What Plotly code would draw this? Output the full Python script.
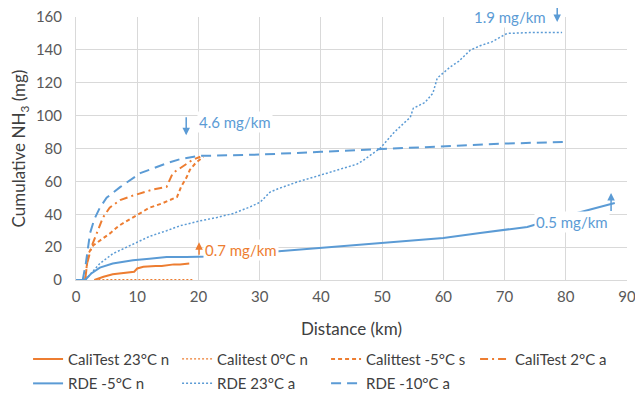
import plotly.graph_objects as go

ORANGE = "#ED7D31"
BLUE = "#5B9BD5"
FONT = "Lato, Open Sans, sans-serif"

# ---- data ----
cali23_x = [3, 4.5, 6, 8, 9.5, 10, 11, 13, 14, 16, 17, 18.5]
cali23_y = [0, 2, 3.5, 4.5, 5, 7, 8, 8.5, 8.5, 9.5, 9.5, 10]

cali0_x = [3, 19]
cali0_y = [0.3, 0.3]

calim5_x = [1.5, 2, 2.8, 4, 5.6, 7, 9.3, 12, 14, 16.5, 17.2, 18, 18.6, 19.5, 20.8]
calim5_y = [0, 16, 21, 24, 28.5, 33, 38, 44, 46.5, 50.5, 57, 62, 67, 71, 75]

cali2_x = [1.5, 1.8, 2.6, 3.5, 4.4, 5.5, 7.2, 9, 10.5, 12.5, 14.8, 15.8, 17, 18.1, 19, 20.3]
cali2_y = [0, 10, 21, 30, 38, 44, 48.6, 51, 52.7, 55, 56.7, 65, 68, 71, 73, 75]

rdem5_x = [0, 1.5, 2.5, 3.9, 6, 9.3, 12, 14.8, 18, 21.9, 25, 30, 36, 40, 45, 50, 55, 60,
           66, 70, 73.7, 78, 82.9, 86.8, 88]
rdem5_y = [0, 0, 4, 7.5, 10, 12, 13, 14, 14, 14.3, 15, 16.5, 18, 19.4, 21, 22.6, 24, 25.5,
           28.6, 30.4, 32.3, 37, 42, 46, 46.8]

rde23_x = [1.5, 2.5, 3.9, 6, 9.3, 12, 14.8, 17, 20.3, 23, 25.7, 28.4, 30.1, 31.7, 33, 36.1,
           41, 45.9, 47, 49.7, 52, 54.6, 55.1, 57, 58.3, 59, 61.1, 62.5, 64.4, 66, 68, 70.4,
           74, 79.4]
rde23_y = [0, 4, 10, 16, 22, 26.5, 30, 33, 36, 38, 40.5, 44.4, 47.4, 53.5, 55.5, 59.6,
           65, 70.5, 73, 80.2, 90, 99, 104.5, 108, 113.7, 122.8, 129.5, 133, 139.8, 142.5,
           145, 150, 150.5, 150.5]

rdem10_x = [1.1, 1.6, 2.3, 3, 3.9, 5, 7.2, 10.5, 14.8, 17, 20, 25, 30, 40, 50, 60, 70, 80]
rdem10_y = [0, 10, 28.6, 37, 44, 50, 56.5, 65, 71, 73.5, 75.5, 75.8, 76.3, 78, 79.6, 81.4, 83, 84]

x_ticks = [0, 10, 20, 30, 40, 50, 60, 70, 80, 90]
y_ticks = [0, 20, 40, 60, 80, 100, 120, 140, 160]

fig = go.Figure()

def add(x, y, name, color, dash, width, legend):
    fig.add_trace(go.Scatter(x=x, y=y, mode="lines", name=name, legend=legend,
                             line=dict(color=color, dash=dash, width=width)))

add(cali23_x, cali23_y, "CaliTest 23°C n", ORANGE, "solid", 2, "legend")
add(cali0_x, cali0_y, "Calitest 0°C n", ORANGE, "2px,2px", 1.2, "legend")
add(calim5_x, calim5_y, "Calittest -5°C s", ORANGE, "4px,3px", 2, "legend")
add(cali2_x, cali2_y, "CaliTest 2°C a", ORANGE, "8px,4px,2px,4px", 2, "legend")
add(rdem5_x, rdem5_y, "RDE -5°C n", BLUE, "solid", 2, "legend2")
add(rde23_x, rde23_y, "RDE 23°C a", BLUE, "2px,2px", 1.5, "legend2")
add(rdem10_x, rdem10_y, "RDE -10°C a", BLUE, "10px,6px", 2, "legend2")

annfont = dict(family=FONT, size=15)
anns = [
    dict(x=19.8, y=96, text="4.6 mg/km", xanchor="left", font=dict(color=BLUE, **annfont),
         bgcolor="white", showarrow=False),
    dict(x=70.9, y=160, text="1.9 mg/km", font=dict(color=BLUE, **annfont),
         bgcolor="white", showarrow=False),
    dict(x=27.0, y=18.2, text="0.7 mg/km", font=dict(color=ORANGE, **annfont),
         bgcolor="white", showarrow=False),
    dict(x=81, y=35.3, text="0.5 mg/km", font=dict(color=BLUE, **annfont),
         bgcolor="white", showarrow=False),
    # arrows
    dict(x=18, y=88, ax=18, ay=100, axref="x", ayref="y", text="", showarrow=True,
         arrowhead=2, arrowsize=1, arrowwidth=1.5, arrowcolor=BLUE),
    dict(x=78.6, y=157, ax=78.6, ay=168, axref="x", ayref="y", text="", showarrow=True,
         arrowhead=2, arrowsize=1, arrowwidth=1.5, arrowcolor=BLUE),
    dict(x=20.1, y=23, ax=20.1, ay=14.5, axref="x", ayref="y", text="", showarrow=True,
         arrowhead=2, arrowsize=1, arrowwidth=1.5, arrowcolor=ORANGE),
    dict(x=87.4, y=53, ax=87.4, ay=41, axref="x", ayref="y", text="", showarrow=True,
         arrowhead=2, arrowsize=1, arrowwidth=1.5, arrowcolor=BLUE),
]

leg_common = dict(orientation="h", xanchor="left", yanchor="middle",
                  entrywidth=104, entrywidthmode="pixels", tracegroupgap=0,
                  font=dict(family=FONT, size=15, color="#404040"), itemwidth=30,
                  bgcolor="rgba(0,0,0,0)")

fig.update_layout(
    width=643, height=410,
    margin=dict(l=68, r=24, t=9, b=138, autoexpand=False),
    paper_bgcolor="white", plot_bgcolor="white",
    font=dict(family=FONT, size=15, color="#595959"),
    showlegend=True,
    legend=dict(x=-0.087, y=-0.301, **leg_common),
    legend2=dict(x=-0.087, y=-0.394, **leg_common),
    annotations=anns,
    xaxis=dict(range=[0, 90], tickvals=x_ticks, showgrid=True, gridcolor="#d9d9d9",
               gridwidth=1, zeroline=False, showline=True, linecolor="#d9d9d9",
               ticks="", ticklabelstandoff=3, automargin=False, ticklabeloverflow="allow",
               title=dict(text="Distance (km)", font=dict(size=17, color="#404040"),
                          standoff=19),
               tickfont=dict(size=15, color="#595959")),
    yaxis=dict(range=[0, 160], tickvals=y_ticks, showgrid=True, gridcolor="#d9d9d9",
               gridwidth=1, zeroline=False, showline=True, linecolor="#d9d9d9",
               ticks="", ticklabelstandoff=10, automargin=False, ticklabeloverflow="allow",
               title=dict(text="Cumulative NH<sub>3</sub> (mg)",
                          font=dict(size=17, color="#404040"), standoff=6),
               tickfont=dict(size=15, color="#595959")),
)

fig.write_html("out.html")
